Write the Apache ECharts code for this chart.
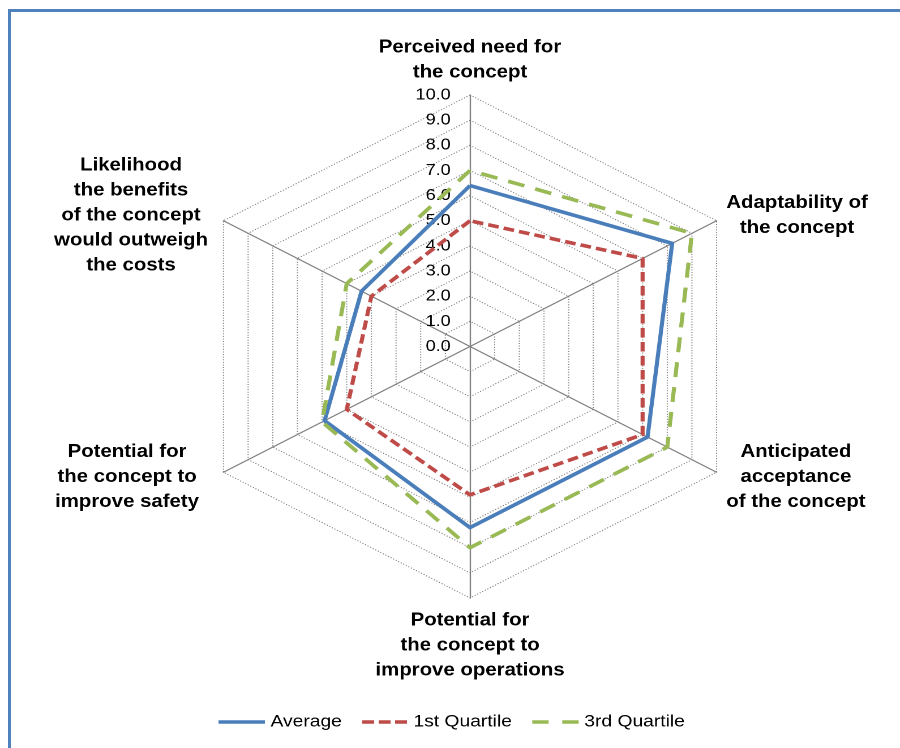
<!DOCTYPE html>
<html>
<head>
<meta charset="utf-8">
<script src="https://cdn.jsdelivr.net/npm/echarts@6/dist/echarts.min.js"></script>
<style>
html, body { margin: 0; padding: 0; background: #fff; width: 900px; height: 748px; overflow: hidden; }
#frame { position: absolute; left: 8px; top: 9px; width: 910px; height: 760px;
  border-top: 3px solid #4F81BD; border-left: 3px solid #4F81BD; box-sizing: border-box; }
/* the reference is an Excel radar drawn ~13% wider than tall */
#chart { position: absolute; left: 0; top: 0; width: 795px; height: 748px;
  transform: scaleX(1.132); transform-origin: 0 0; }
</style>
</head>
<body>
<div id="frame"></div>
<div id="chart"></div>
<script>
// ---- data (clockwise from the top, as in the reference) ----
const categories = [
  'Perceived need for\nthe concept',
  'Adaptability of\nthe concept',
  'Anticipated\nacceptance\nof the concept',
  'Potential for\nthe concept to\nimprove operations',
  'Potential for\nthe concept to\nimprove safety',
  'Likelihood\nthe benefits\nof the concept\nwould outweigh\nthe costs'
];
const seriesNames = ['Average', '1st Quartile', '3rd Quartile'];
const average   = [6.4, 8.2, 7.2, 7.2, 5.9, 4.4];
const quartile1 = [5.0, 7.0, 7.0, 5.9, 5.0, 4.0];
const quartile3 = [7.0, 9.0, 8.0, 8.0, 6.0, 5.0];
const axisMin = 0, axisMax = 10, axisSplits = 10;

// ---- presentation ----
const colors = ['#4A7EBB', '#BE4B48', '#98B954'];
const dashes = ['solid', [9.5, 4.5], [15, 10]];
const legendIcons = [
  'path://M0,0H41V3.5H0Z',
  'path://M0,0H10.5V3.5H0Z M14.5,0H25V3.5H14.5Z M29,0H39.5V3.5H29Z',
  'path://M0,0H14.5V3.5H0Z M26.5,0H41V3.5H26.5Z'
];
const cx = 415.2, cy = 346.5, R = 251.5;
// ECharts lays indicators counter-clockwise; reference is clockwise
const order = [0, 5, 4, 3, 2, 1];
const reorder = arr => order.map(i => arr[i]);
const extraPad = [0, 0, 0, 0, 13, 5];

const nameFont = { fontFamily: 'Liberation Sans', fontWeight: 'bold', fontSize: 18, lineHeight: 25, color: '#000' };
const rich = {};
[0, 5, 13].forEach(p => {
  rich['p' + p] = Object.assign({ align: 'center', padding: [0, p, 0, 0] }, nameFont);
});

const chart = echarts.init(document.getElementById('chart'), null, { devicePixelRatio: 2, renderer: 'canvas' });
chart.setOption({
  animation: false,
  backgroundColor: 'transparent',
  legend: {
    data: seriesNames.map((n, i) => ({ name: n, icon: legendIcons[i] })),
    left: 188, top: 707,
    itemWidth: 41, itemHeight: 3.5, itemGap: 18,
    selectedMode: false,
    itemStyle: { borderWidth: 0 },
    textStyle: { fontFamily: 'Liberation Sans', fontSize: 17, color: '#000', lineHeight: 20 }
  },
  radar: [
    {
      center: [cx, cy], radius: R, startAngle: 90, shape: 'polygon',
      splitNumber: axisSplits,
      indicator: reorder(categories).map(n => ({ name: n, min: axisMin, max: axisMax })),
      nameGap: 10,
      axisName: Object.assign({
        formatter: function (name) {
          const p = extraPad[categories.indexOf(name)];
          return name.split('\n').map(l => '{p' + p + '|' + l + '}').join('\n');
        },
        rich: rich
      }, nameFont),
      axisLine: { lineStyle: { color: '#808080', width: 1.2 } },
      splitLine: { lineStyle: { color: '#7a7a7a', width: 1, type: [1, 1.6] } },
      splitArea: { show: false },
      axisTick: { show: false },
      axisLabel: { show: false }
    },
    {
      center: [cx, cy], radius: R, startAngle: 90, shape: 'circle',
      splitNumber: axisSplits,
      indicator: [{ name: '', min: axisMin, max: axisMax }],
      axisName: { show: false },
      axisLine: { show: false },
      splitLine: { show: false },
      splitArea: { show: false },
      axisTick: { show: false },
      axisLabel: {
        show: true, margin: 17, color: '#000',
        fontFamily: 'Liberation Sans', fontSize: 16,
        formatter: v => Number(v).toFixed(1)
      }
    }
  ],
  series: [{
    type: 'radar',
    radarIndex: 0,
    symbol: 'none',
    silent: true,
    data: [average, quartile1, quartile3].map((vals, i) => ({
      name: seriesNames[i],
      value: reorder(vals),
      itemStyle: { color: colors[i] },
      lineStyle: { color: colors[i], width: 3.6, type: dashes[i], cap: 'butt' },
      areaStyle: null
    }))
  }]
});
</script>
</body>
</html>
